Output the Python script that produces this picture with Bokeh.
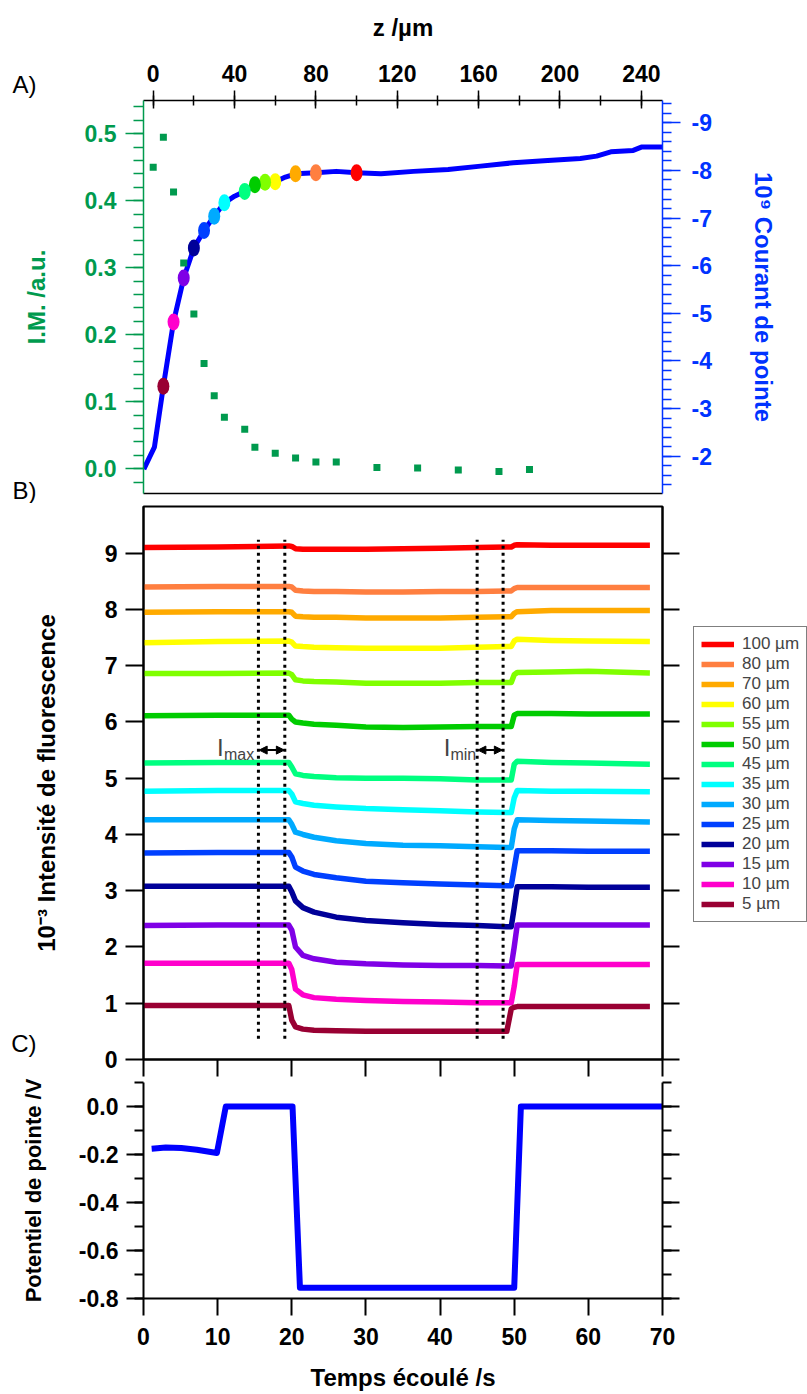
from bokeh.plotting import figure
from bokeh.models import (Range1d, LinearAxis, SingleIntervalTicker, PrintfTickFormatter,
                          FixedTicker, CustomJSTickFormatter,
                          Legend, LegendItem, Label, Arrow, NormalHead)
from bokeh.layouts import column, row
from bokeh.embed import file_html
from bokeh.resources import INLINE

FONT = "Liberation Sans"
GREEN = "#009a4e"
BLUE = "#0000ff"
AXBLUE = "#0033ff"

# ---------------- Panel A data ----------------
z_im = [0, 5, 10, 15, 20, 25, 30, 35, 45, 50, 60, 70, 80, 90, 110, 130, 150, 170, 185]
im_val = [0.450, 0.495, 0.413, 0.307, 0.231, 0.157, 0.109, 0.077, 0.059, 0.032, 0.023,
          0.016, 0.010, 0.010, 0.002, 0.001, -0.002, -0.004, -0.001]

z_cur = [-4.6, 0.6, 5, 10, 15, 20, 25, 30, 35, 40, 45, 50, 55, 60, 65, 70, 80, 90, 100,
         112, 128, 145, 161, 177, 194, 210, 218, 225, 236, 240, 251]
cur_val = [-1.73, -2.19, -3.47, -4.82, -5.74, -6.37, -6.74, -7.04, -7.32, -7.46, -7.56, -7.70,
           -7.75, -7.76, -7.86, -7.93, -7.95, -7.98, -7.95, -7.93, -7.98, -8.02, -8.09, -8.16,
           -8.21, -8.25, -8.30, -8.39, -8.42, -8.49, -8.49]

dist_labels = ["100 µm", "80 µm", "70 µm", "60 µm", "55 µm", "50 µm", "45 µm",
               "35 µm", "30 µm", "25 µm", "20 µm", "15 µm", "10 µm", "5 µm"]
dist_colors = ["#ff0000", "#ff7f40", "#ffaa00", "#ffff00", "#80ff00", "#00cc00", "#00ff80",
               "#00ffff", "#00aaff", "#0040ff", "#000099", "#7f00e6", "#ff00cc", "#990033"]
dot_z = [100, 80, 70, 60, 55, 50, 45, 35, 30, 25, 20, 15, 10, 5]
dot_cur = [-7.95, -7.95, -7.93, -7.76, -7.75, -7.70, -7.56, -7.32, -7.04, -6.74, -6.37,
           -5.74, -4.82, -3.47]

# ---------------- Panel B data ----------------
t_b = [0, 10, 19.6, 20.0, 20.5, 21.5, 23, 26, 30, 35, 40, 45, 49.0, 49.6, 50.0, 50.4, 55, 60, 68.3]
i100 = [9.10, 9.11, 9.13, 9.12, 9.08, 9.07, 9.07, 9.07, 9.07, 9.08, 9.09, 9.10, 9.11, 9.11, 9.14, 9.15, 9.14, 9.14, 9.14]
i80 = [8.40, 8.41, 8.41, 8.40, 8.34, 8.33, 8.32, 8.32, 8.31, 8.31, 8.32, 8.32, 8.33, 8.33, 8.37, 8.39, 8.39, 8.39, 8.39]
i70 = [7.95, 7.96, 7.96, 7.95, 7.88, 7.87, 7.86, 7.86, 7.85, 7.85, 7.85, 7.86, 7.87, 7.87, 7.93, 7.96, 7.98, 7.98, 7.98]
i60 = [7.41, 7.43, 7.44, 7.42, 7.35, 7.34, 7.33, 7.32, 7.31, 7.31, 7.31, 7.33, 7.34, 7.34, 7.44, 7.47, 7.45, 7.44, 7.43]
i55 = [6.86, 6.86, 6.87, 6.84, 6.75, 6.73, 6.72, 6.71, 6.69, 6.69, 6.69, 6.70, 6.70, 6.70, 6.84, 6.88, 6.89, 6.90, 6.87]
i50 = [6.11, 6.12, 6.12, 6.05, 6.00, 5.98, 5.96, 5.94, 5.91, 5.90, 5.91, 5.92, 5.92, 5.92, 6.12, 6.15, 6.15, 6.14, 6.14]
i45 = [5.27, 5.28, 5.28, 5.20, 5.08, 5.05, 5.03, 5.01, 5.00, 5.00, 4.99, 4.97, 4.97, 4.97, 5.25, 5.30, 5.28, 5.27, 5.25]
i35 = [4.77, 4.78, 4.78, 4.72, 4.58, 4.55, 4.52, 4.49, 4.46, 4.44, 4.42, 4.40, 4.39, 4.39, 4.65, 4.78, 4.77, 4.77, 4.76]
i30 = [4.26, 4.26, 4.26, 4.18, 4.04, 4.00, 3.95, 3.89, 3.84, 3.81, 3.80, 3.78, 3.77, 3.77, 4.10, 4.26, 4.25, 4.24, 4.22]
i25 = [3.67, 3.68, 3.68, 3.60, 3.42, 3.35, 3.29, 3.23, 3.17, 3.14, 3.12, 3.10, 3.09, 3.09, 3.40, 3.71, 3.71, 3.70, 3.70]
i20 = [3.08, 3.08, 3.08, 2.98, 2.82, 2.70, 2.62, 2.53, 2.47, 2.43, 2.40, 2.38, 2.36, 2.36, 2.70, 3.07, 3.07, 3.06, 3.06]
i15 = [2.38, 2.39, 2.39, 2.30, 2.00, 1.85, 1.79, 1.73, 1.70, 1.68, 1.67, 1.67, 1.66, 1.66, 2.00, 2.39, 2.39, 2.39, 2.39]
i10 = [1.71, 1.71, 1.71, 1.60, 1.25, 1.15, 1.10, 1.07, 1.05, 1.03, 1.02, 1.01, 1.01, 1.01, 1.30, 1.69, 1.69, 1.69, 1.69]
i5 = [0.96, 0.96, 0.96, 0.70, 0.58, 0.54, 0.52, 0.51, 0.50, 0.50, 0.50, 0.50, 0.50, 0.90, 0.93, 0.94, 0.94, 0.94, 0.94]
traces = [i100, i80, i70, i60, i55, i50, i45, i35, i30, i25, i20, i15, i10, i5]

marker_t = [15.5, 19.06, 45.0, 48.5]
marker_low = 0.37
marker_high = 9.24

# ---------------- Panel C data ----------------
t_c = [1.1, 3.0, 5.1, 7.2, 9.9, 11.1, 20.1, 21.1, 50.0, 50.9, 70]
v_c = [-0.176, -0.171, -0.173, -0.180, -0.194, 0.0, 0.0, -0.755, -0.755, 0.0, 0.0]

W = 807
LB, RB = 143, 145


def style_axis(ax, color="black", out=18, minor_out=0, minor_in=0, tin=0, font="23px",
               standoff=8, lw=2, tw=2):
    ax.axis_line_color = color
    ax.axis_line_width = lw
    ax.major_tick_line_color = color
    ax.major_tick_line_width = tw
    ax.minor_tick_line_color = color
    ax.minor_tick_line_width = tw
    ax.major_tick_out = out
    ax.major_tick_in = tin
    ax.minor_tick_out = minor_out
    ax.minor_tick_in = minor_in
    ax.major_label_text_color = color
    ax.major_label_text_font = FONT
    ax.major_label_text_font_style = "bold"
    ax.major_label_text_font_size = font
    ax.major_label_standoff = standoff
    ax.axis_label_text_color = color
    ax.axis_label_text_font = FONT
    ax.axis_label_text_font_style = "bold"
    ax.axis_label_text_font_size = "24px"


def hide_labels(ax):
    ax.formatter = CustomJSTickFormatter(code="return ''")
    ax.major_label_text_font_size = "1px"
    ax.major_label_standoff = 0


def panel_tag_axis(ticks, code, standoff):
    ax = LinearAxis(ticker=FixedTicker(ticks=ticks), formatter=CustomJSTickFormatter(code=code))
    ax.axis_line_color = None
    ax.major_tick_line_color = None
    ax.minor_tick_line_color = None
    ax.major_tick_out = 0
    ax.major_tick_in = 0
    ax.minor_tick_out = 0
    ax.major_label_standoff = standoff
    ax.major_label_text_font = FONT
    ax.major_label_text_font_size = "24px"
    ax.major_label_text_color = "black"
    return ax


# ================= Panel A =================
pA = figure(width=W, height=503, x_range=Range1d(-4.77, 250.4), y_range=Range1d(-0.0369, 0.5497),
            x_axis_location="above", toolbar_location=None, output_backend="svg",
            min_border_left=LB, min_border_right=RB, min_border_top=100, min_border_bottom=10)
pA.extra_y_ranges = {"cur": Range1d(start=-1.217, end=-9.468)}
pA.grid.visible = False
pA.outline_line_color = None

ax_top = pA.above[0]
ax_top.ticker = SingleIntervalTicker(interval=40, num_minor_ticks=2)
style_axis(ax_top, "black", out=10, tin=8, minor_out=5, minor_in=5, standoff=9, lw=1.5, tw=1.5)
ax_top.axis_label = "z /µm"
ax_top.axis_label_standoff = 21

ax_l = pA.left[0]
ax_l.ticker = SingleIntervalTicker(interval=0.1, num_minor_ticks=5)
ax_l.formatter = PrintfTickFormatter(format="%.1f")
style_axis(ax_l, GREEN, out=18, minor_out=10, standoff=9, lw=1.5, tw=1.5)
ax_l.axis_label = "I.M. /a.u."
ax_l.axis_label_standoff = 32

pA.add_layout(panel_tag_axis([0.5495, -0.0367], "return tick > 0.2 ? 'A)\\n ' : 'B)'", -17), "left")

ax_r = LinearAxis(y_range_name="cur", ticker=SingleIntervalTicker(interval=1, num_minor_ticks=5),
                  formatter=PrintfTickFormatter(format="%d"))
style_axis(ax_r, AXBLUE, out=18, minor_out=9, standoff=11, lw=1.5, tw=1.5)
ax_r.axis_label = "10⁹ Courant de pointe"
ax_r.axis_label_standoff = 35
pA.add_layout(ax_r, "right")

ax_b = LinearAxis(ticker=FixedTicker(ticks=[]))
style_axis(ax_b, "black", out=0, standoff=0, lw=1.5)
hide_labels(ax_b)
ax_b.major_tick_line_color = None
ax_b.minor_tick_line_color = None
pA.add_layout(ax_b, "below")

pA.line(z_cur, cur_val, y_range_name="cur", line_color=BLUE, line_width=5, line_join="round")
pA.ellipse(x=dot_z, y=dot_cur, width=12, height=17, width_units="screen", height_units="screen",
           fill_color=dist_colors, line_color=None, y_range_name="cur")
pA.scatter(z_im, im_val, marker="square", size=7, fill_color=GREEN, line_color=None)

# ================= Panel B =================
BW = 693
pB = figure(width=BW, height=574, x_range=Range1d(0, 70), y_range=Range1d(0, 9.83),
            toolbar_location=None, output_backend="svg",
            min_border_left=LB, min_border_right=BW - LB - 519, min_border_top=3, min_border_bottom=18)
pB.grid.visible = False
pB.outline_line_color = "black"
pB.outline_line_width = 2

bx = pB.below[0]
bx.ticker = SingleIntervalTicker(interval=10, num_minor_ticks=0)
style_axis(bx, "black", out=17, standoff=0)
hide_labels(bx)

by = pB.left[0]
by.ticker = SingleIntervalTicker(interval=1, num_minor_ticks=0)
style_axis(by, "black", out=18, standoff=8)
by.axis_label = "10⁻³ Intensité de fluorescence"
by.axis_label_standoff = 42

pB.add_layout(panel_tag_axis([0.29], "return 'C)'", -7), "left")

byr = LinearAxis(ticker=SingleIntervalTicker(interval=1, num_minor_ticks=0))
style_axis(byr, "black", out=17, standoff=0)
hide_labels(byr)
pB.add_layout(byr, "right")

for col, vals in zip(dist_colors, traces):
    pB.line(t_b, vals, line_color=col, line_width=5.5, line_join="round")

pB.segment(x0=marker_t, y0=[marker_low] * 4, x1=marker_t, y1=[marker_high] * 4,
           line_color="black", line_width=3, line_dash="3 4")

for xs, xe in [(15.6, 19.0), (45.1, 48.4)]:
    pB.add_layout(Arrow(start=NormalHead(size=8, fill_color="black", line_color="black"),
                        end=NormalHead(size=8, fill_color="black", line_color="black"),
                        x_start=xs, y_start=5.5, x_end=xe, y_end=5.5,
                        line_color="black", line_width=2))

pB.add_layout(Label(x=9.9, y=5.54, text="I", text_font=FONT, text_font_size="24px",
                    text_baseline="alphabetic"))
pB.add_layout(Label(x=10.86, y=5.43, text="max", text_font=FONT, text_font_size="16px",
                    text_baseline="alphabetic"))
pB.add_layout(Label(x=40.5, y=5.54, text="I", text_font=FONT, text_font_size="24px",
                    text_baseline="alphabetic"))
pB.add_layout(Label(x=41.4, y=5.43, text="min", text_font=FONT, text_font_size="16px",
                    text_baseline="alphabetic"))

# legend figure to the right of panel B (its own line renderers lie outside its view)
pL = figure(width=W - BW, height=574, x_range=Range1d(1000, 1001), y_range=Range1d(1000, 1001),
            toolbar_location=None, output_backend="svg", min_border=0,
            x_axis_location=None, y_axis_location=None)
pL.grid.visible = False
pL.outline_line_color = None
items = []
for lab, col, vals in zip(dist_labels, dist_colors, traces):
    r = pL.line(t_b, vals, line_color=col, line_width=5.5)
    items.append(LegendItem(label=lab, renderers=[r]))
legend = Legend(items=items, location=(0, 137), glyph_width=33, glyph_height=18,
                label_height=18, spacing=0, padding=7, label_standoff=8, margin=0,
                label_text_font=FONT, label_text_font_size="17px",
                border_line_color="black", border_line_width=1.5,
                background_fill_color="white", background_fill_alpha=1.0)
pL.add_layout(legend)

# ================= Panel C =================
pC = figure(width=W, height=317, x_range=Range1d(0, 70), y_range=Range1d(-0.8, 0.1),
            toolbar_location=None, output_backend="svg",
            min_border_left=LB, min_border_right=RB, min_border_top=5, min_border_bottom=96)
pC.grid.visible = False
pC.outline_line_color = None

cx = pC.below[0]
cx.ticker = SingleIntervalTicker(interval=10, num_minor_ticks=0)
style_axis(cx, "black", out=17, standoff=12)
cx.axis_label = "Temps écoulé /s"
cx.axis_label_standoff = 16

cy = pC.left[0]
cy.ticker = SingleIntervalTicker(interval=0.2, num_minor_ticks=2)
cy.formatter = PrintfTickFormatter(format="%.1f")
style_axis(cy, "black", out=17, minor_out=9, standoff=8)
cy.axis_label = "Potentiel de pointe /V"
cy.axis_label_text_font_size = "22px"
cy.axis_label_standoff = 30

cyr = LinearAxis(ticker=SingleIntervalTicker(interval=0.2, num_minor_ticks=2))
style_axis(cyr, "black", out=17, minor_out=9, standoff=0)
hide_labels(cyr)
pC.add_layout(cyr, "right")

pC.line(t_c, v_c, line_color=BLUE, line_width=6, line_join="round")

layout = column(pA, row(pB, pL, spacing=0), pC, spacing=0)
open("out.html", "w").write(file_html(layout, INLINE))
